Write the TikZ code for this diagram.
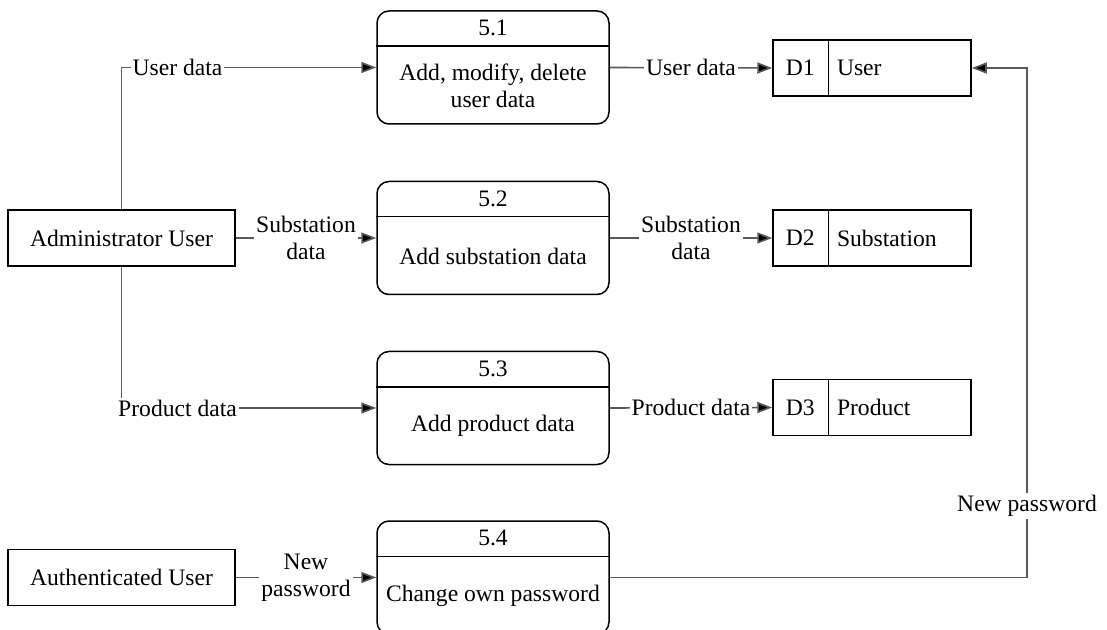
\documentclass[tikz,border=0pt]{standalone}
\usepackage{fontspec}
\setmainfont{Liberation Serif}
\usetikzlibrary{arrows.meta,positioning,calc}

\begin{document}
\begin{tikzpicture}[
  x=0.5pt,y=-0.5pt,
  font=\fontsize{11.8}{13.5}\selectfont,
  line width=0.75pt,
  entity/.style={draw,minimum width=113.5pt,minimum height=28pt,inner sep=0pt},
  proc/.style={draw,rounded corners=6pt,minimum width=116pt,minimum height=56.5pt,inner sep=0pt},
  store/.style={draw,minimum width=99pt,minimum height=28pt,inner sep=0pt},
  lbl/.style={fill=white,inner sep=1pt,align=center},
  flow/.style={-{Triangle[length=7.5pt,width=5.5pt,fill=black]},draw=black!65,line width=0.8pt},
]
\useasboundingbox (0,0) rectangle (1107,630);
% external entities
\node[entity] (admin) at (121.5,238) {Administrator User};
\node[entity] (auth) at (121.5,577.5) {Authenticated User};
% processes
\node[proc] (p1) at (493,67.5) {};
\node[proc] (p2) at (493,238) {};
\node[proc] (p3) at (493,408) {};
\node[proc] (p4) at (493,577.5) {};
\foreach \p/\n in {p1/5.1,p2/5.2,p3/5.3,p4/5.4}{
  \node (\p num) at ([yshift=-9pt]\p.north) {\n};
  \draw ([yshift=-18pt]\p.north west) -- ([yshift=-18pt]\p.north east);
}
\node[align=center] (t1) at ([yshift=-9pt]p1.center) {Add, modify, delete\\user data};
\node (t2) at ([yshift=-9pt]p2.center) {Add substation data};
\node (t3) at ([yshift=-9pt]p3.center) {Add product data};
\node (t4) at ([yshift=-9pt]p4.center) {Change own password};
% data stores
\node[store] (d1) at (872,68) {};
\node[store] (d2) at (872,238) {};
\node[store] (d3) at (872,407.5) {};
\foreach \d/\i/\n in {d1/D1/User,d2/D2/Substation,d3/D3/Product}{
  \draw ([xshift=28pt]\d.north west) -- ([xshift=28pt]\d.south west);
  \node (\d id) at ([xshift=14pt]\d.west) {\i};
  \node[anchor=west,inner sep=0pt] (\d name) at ([xshift=32pt]\d.west) {\n};
}
% flows
\draw[flow] (admin.north) |- node[lbl,pos=.61]{User data} (p1.west);
\draw[flow] (admin.east) -- node[lbl]{Substation\\data} (p2.west);
\draw[flow] (admin.south) |- node[lbl,pos=.61]{Product data} (p3.west);
\draw[flow] (auth.east) -- node[lbl]{New\\password} (p4.west);
\draw[flow] (p1.east) -- node[lbl]{User data} (d1.west);
\draw[flow] (p2.east) -- node[lbl]{Substation\\data} (d2.west);
\draw[flow] (p3.east) -- node[lbl]{Product data} (d3.west);
\coordinate (turn) at (1027,68);
\draw[flow] (p4.east) -| node[lbl,pos=.57]{New password} (turn) -- (d1.east);
\end{tikzpicture}
\end{document}
